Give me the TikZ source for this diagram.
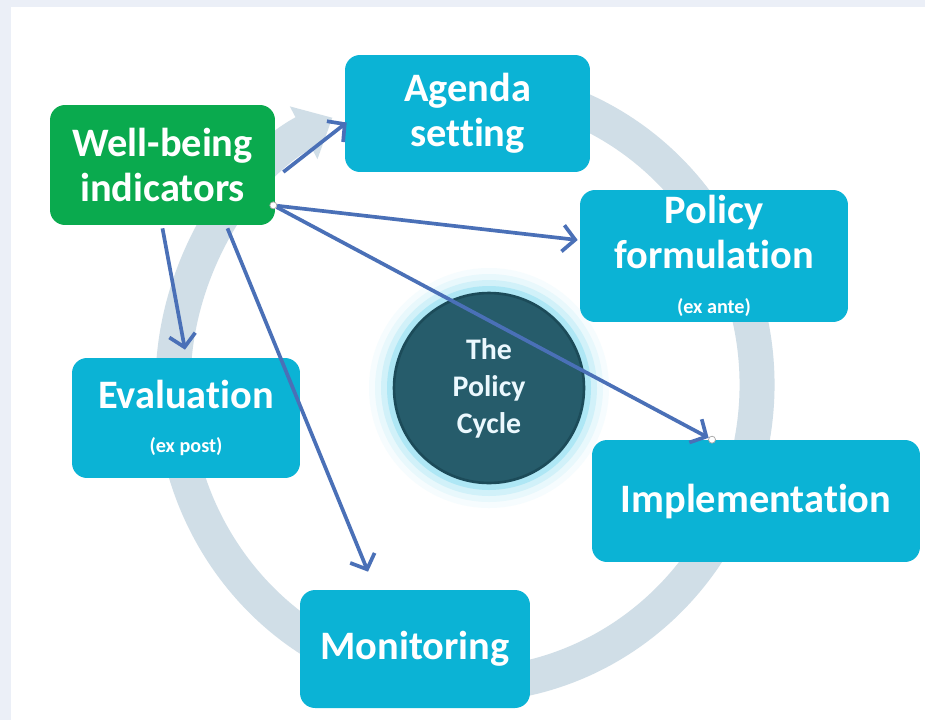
\documentclass[tikz,border=0pt]{standalone}
\usepackage{fontspec}
\setmainfont[Ligatures=NoCommon]{Carlito}
\usetikzlibrary{arrows.meta,calc}
\definecolor{pageblue}{HTML}{EBEFF7}
\definecolor{wbgreen}{HTML}{0AAA4E}
\definecolor{boxcyan}{HTML}{0BB3D5}
\definecolor{linkblue}{HTML}{4A70B7}
\definecolor{ringgrey}{HTML}{D0DEE7}
\definecolor{cycleteal}{HTML}{265C6B}
\definecolor{cycleedge}{HTML}{1C4B59}
\definecolor{glowcyan}{HTML}{6DD5EE}
\tikzset{
  stage/.style={fill=boxcyan, rounded corners=0.3cm, text=white, inner sep=0pt, align=center, font=\bfseries\fontsize{23}{25.5}\selectfont},
  link/.style={draw=linkblue, line width=2.1pt, -{Straight Barb[length=7pt,width=15pt]}},
  dot/.style={circle, fill=white, draw=gray!70, line width=0.4pt, inner sep=0pt, minimum size=0.14cm}
}
\newcommand{\subtext}[1]{{\fontsize{11.5}{13}\selectfont #1}}
\begin{document}
\begin{tikzpicture}[x=0.02cm,y=-0.02cm]
\fill[pageblue] (0,0) rectangle (925,720);
\fill[white] (11,7) rectangle (925,720);
\useasboundingbox (0,0) rectangle (925,720);
% the big ring behind everything
\draw[ringgrey, line width=0.7cm, -{Triangle[length=0.65cm,width=1.15cm]}] (465,385) ++(-80:292 and 300) arc[start angle=-80, end angle=243, x radius=292, y radius=300];
\node[stage, fill=wbgreen, minimum width=4.5cm, minimum height=2.4cm] (wb) at (162.5,165) {Well-being\\indicators};
\node[stage, minimum width=4.9cm, minimum height=2.34cm] (agenda) at (467.5,113.5) {Agenda\\setting};
\node[stage, minimum width=5.36cm, minimum height=2.64cm] (formul) at (714,256) {Policy\\formulation\\\subtext{(ex ante)}};
\node[stage, minimum width=6.56cm, minimum height=2.44cm] (impl) at (756,501) {Implementation};
\node[stage, minimum width=4.6cm, minimum height=2.36cm] (monit) at (415,649) {Monitoring};
\node[stage, minimum width=4.56cm, minimum height=2.4cm] (evalu) at (186,418) {Evaluation\\\subtext{(ex post)}};
% hub with its glow
\coordinate (hub) at (489,388);
\foreach \r/\o in {120/0.06,114/0.1,108/0.18,102/0.35}
  \fill[glowcyan, opacity=\o] (hub) circle[radius=\r];
\node[circle, fill=cycleteal, draw=cycleedge, line width=1.5pt, minimum size=3.8cm, inner sep=0pt, text=white!92!cyan, align=center, font=\bfseries\fontsize{17}{21}\selectfont] (cycle) at (hub) {The\\Policy\\Cycle};
\node[dot] (src) at ($(wb.south east)+(-2,-20)$) {};
\node[dot] (tip) at ($(impl.north)+(-44,0)$) {};
\draw[link] ($(wb.east)+(8,7)$) -- ($(agenda.west)+(2,9)$);
\draw[link] (src) -- ($(formul.west)+(-2,-16)$);
\draw[link] (src) -- (tip);
\draw[link] ($(wb.south)+(0,3)$) -- ($(evalu.north)+(-1,-8)$);
\draw[link] ($(wb.south)+(65,3)$) -- ($(monit.north)+(-47,-18)$);
\end{tikzpicture}
\end{document}
